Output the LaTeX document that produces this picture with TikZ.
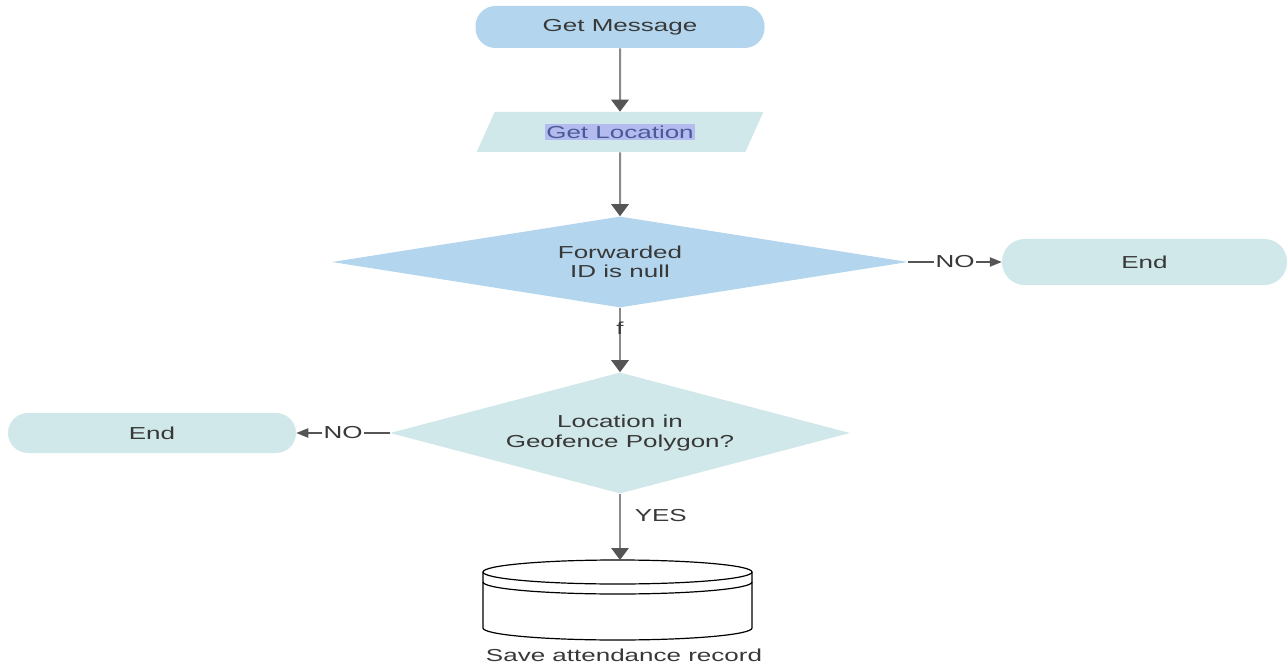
\documentclass[tikz,border=0pt]{standalone}
\usepackage{fontspec}
\setmainfont{Liberation Sans}[FakeStretch=1.5]
\usepackage{tikz}
\usetikzlibrary{shapes.geometric,arrows.meta}

\definecolor{flowblue}{HTML}{B3D6EE}
\definecolor{flowteal}{HTML}{D0E8E9}
\definecolor{flowtext}{HTML}{383838}
\definecolor{flowline}{HTML}{8A8A8A}
\definecolor{flowtip}{HTML}{555555}
\definecolor{selbg}{HTML}{B4BBEE}
\definecolor{seltext}{HTML}{4A5A98}

\newcommand{\seltxt}[1]{{\setlength{\fboxsep}{1pt}\colorbox{selbg}{\color{seltext}#1}}}

\begin{document}
\begin{tikzpicture}[x=0.75pt,y=-0.75pt,
  every node/.style={font=\fontsize{13}{14.5}\selectfont,text=flowtext},
  terminal/.style={rectangle,rounded corners=15pt,inner sep=0pt},
  decision/.style={diamond,inner sep=0pt,align=center},
  flow/.style={draw=flowline,line width=1.5pt,-{Triangle[width=13pt,length=9pt,fill=flowtip,color=flowtip]}},
  sideflow/.style={draw=flowtip,line width=1pt,-{Triangle[width=7pt,length=9pt,fill=flowtip,color=flowtip]}},
  lbl/.style={fill=white,inner sep=1pt}]
\useasboundingbox (0,0) rectangle (1287,666);
% nodes
\node[terminal,fill=flowblue,minimum width=216.75pt,minimum height=31.5pt] (msg) at (620,27) {Get Message};
\node[trapezium,trapezium left angle=55,trapezium right angle=125,trapezium stretches=true,
  fill=flowteal,minimum width=215pt,minimum height=30pt,inner sep=0pt] (loc) at (620,132) {\seltxt{Get Location}};
\node[decision,aspect=6.33,fill=flowblue,minimum width=432pt,minimum height=68.25pt] (fwd) at (620,262) {Forwarded\\ID is null};
\node[terminal,fill=flowteal,minimum width=213.75pt,minimum height=34.5pt,rounded corners=17pt] (end1) at (1144.5,262) {End};
\node[decision,aspect=3.8,fill=flowteal,minimum width=345pt,minimum height=90.75pt] (geo) at (620,433) {Location in\\Geofence Polygon?};
\node[terminal,fill=flowteal,minimum width=216pt,minimum height=30pt] (end2) at (152,433) {End};
% database
\coordinate (dbtop) at (617.5,560);
\draw[line width=0.9pt,fill=white] (483,572) -- (483,628) arc[start angle=180,end angle=0,x radius=134.5,y radius=12] -- (752,572);
\draw[line width=0.9pt,fill=white] (617.5,572) ellipse[x radius=134.5,y radius=12];
\draw[line width=0.9pt] (483,582) arc[start angle=180,end angle=0,x radius=134.5,y radius=12];
\node (save) at (624,655) {Save attendance record};
% connectors
\draw[flow] (msg) -- (loc);
\draw[flow] (loc) -- (fwd);
\draw[sideflow] (fwd) -- node[lbl] {NO} (end1);
\draw[flow] (fwd) -- node[pos=0.32,inner sep=0pt] {f} (geo);
\draw[sideflow] (geo) -- node[lbl] {NO} (end2);
\draw[flow] (geo.south) -- node[pos=0.33,right=7pt] {YES} (geo.south |- dbtop);
\end{tikzpicture}
\end{document}
